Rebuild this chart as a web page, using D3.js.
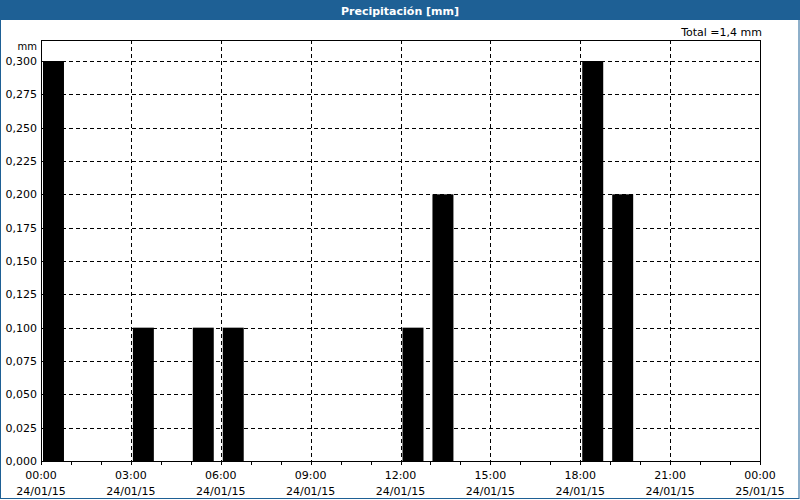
<!DOCTYPE html>
<html><head><meta charset="utf-8">
<script src="https://cdn.jsdelivr.net/npm/d3@7"></script>
<style>body{margin:0;background:#fff}svg{display:block}</style>
</head><body>
<script>
const title = "Precipitación [mm]";
const totalLabel = "Total =1,4 mm";
const hours = [0, 3, 5, 6, 12, 13, 18, 19];
const values = [0.3, 0.1, 0.1, 0.1, 0.1, 0.2, 0.3, 0.2];
const yTicks = [0, 0.025, 0.05, 0.075, 0.1, 0.125, 0.15, 0.175, 0.2, 0.225, 0.25, 0.275, 0.3];
const xTickHours = [0, 3, 6, 9, 12, 15, 18, 21, 24];
const xTimeLabels = ["00:00","03:00","06:00","09:00","12:00","15:00","18:00","21:00","00:00"];
const xDateLabels = ["24/01/15","24/01/15","24/01/15","24/01/15","24/01/15","24/01/15","24/01/15","24/01/15","25/01/15"];

const W = 800, H = 500, blue = "#1e6095";
const L = 41, R = 760, T = 40, B = 461;
const svg = d3.select("body").append("svg").attr("width", W).attr("height", H);
const font = "Tahoma, 'DejaVu Sans', sans-serif";

svg.append("rect").attr("x",0).attr("y",0).attr("width",W).attr("height",H).attr("fill","#fff");
svg.append("rect").attr("x",0.5).attr("y",0.5).attr("width",W-1.5).attr("height",H-2).attr("fill","none").attr("stroke",blue);
svg.append("rect").attr("x",0).attr("y",0).attr("width",W).attr("height",20).attr("fill",blue);
svg.append("text").attr("x",W/2).attr("y",14.5).attr("text-anchor","middle").attr("fill","#fff")
  .attr("font-family",font).attr("font-size",11).attr("font-weight","bold").text(title);

const x = d3.scaleLinear().domain([0,24]).range([L,R]);
const y = d3.scaleLinear().domain([0,0.3]).range([B,61]);

const g = svg.append("g").attr("font-family",font).attr("font-size",11);

// horizontal grid
g.selectAll(".hg").data(yTicks.filter(d=>d>0)).join("line")
  .attr("x1",L).attr("x2",R).attr("y1",d=>Math.round(y(d))+0.5).attr("y2",d=>Math.round(y(d))+0.5)
  .attr("stroke","#000").attr("stroke-dasharray","4,3");
// vertical grid
g.selectAll(".vg").data(xTickHours.filter(d=>d>0&&d<24)).join("line")
  .attr("x1",d=>Math.round(x(d))+0.5).attr("x2",d=>Math.round(x(d))+0.5).attr("y1",T).attr("y2",B)
  .attr("stroke","#000").attr("stroke-dasharray","4,3");

// bars
const hourW = x(1)-x(0);
g.selectAll(".bar").data(hours.map((h,i)=>({h,v:values[i]}))).join("rect")
  .attr("x",d=>x(d.h)+2).attr("width",hourW*0.7)
  .attr("y",d=>y(d.v)).attr("height",d=>B-y(d.v)).attr("fill","#000");

// frame
svg.append("rect").attr("x",L+0.5).attr("y",T+0.5).attr("width",R-L).attr("height",B-T)
  .attr("fill","none").attr("stroke","#000");

// y axis labels
g.selectAll(".yl").data(yTicks).join("text")
  .attr("x",37).attr("y",d=>y(d)+4).attr("text-anchor","end").attr("fill","#000")
  .text(d=>d3.format(".3f")(d).replace(".",","));
g.append("text").attr("x",37).attr("y",50).attr("text-anchor","end").attr("font-size",10).text("mm");
g.append("text").attr("x",762).attr("y",36).attr("text-anchor","end").attr("font-size",11).text(totalLabel);

// x ticks every hour
g.selectAll(".xt").data(d3.range(0,25)).join("line")
  .attr("x1",d=>Math.round(x(d))+0.5).attr("x2",d=>Math.round(x(d))+0.5).attr("y1",B).attr("y2",B+4)
  .attr("stroke","#000");
g.selectAll(".xl1").data(xTickHours).join("text")
  .attr("x",d=>x(d)).attr("y",479).attr("text-anchor","middle").text((d,i)=>xTimeLabels[i]);
g.selectAll(".xl2").data(xTickHours).join("text")
  .attr("x",d=>x(d)).attr("y",495).attr("text-anchor","middle").text((d,i)=>xDateLabels[i]);
</script>
</body></html>
